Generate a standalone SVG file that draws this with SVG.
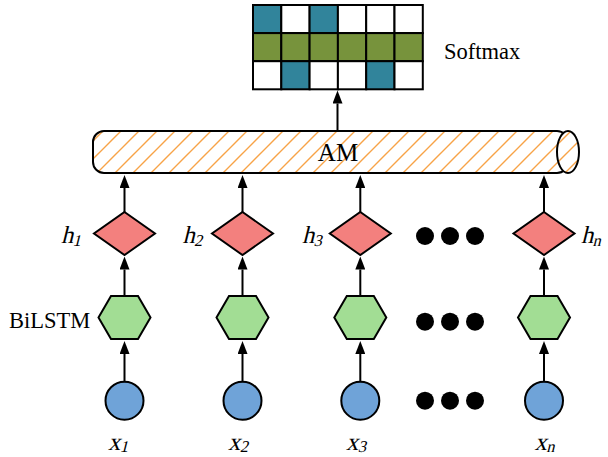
<svg xmlns="http://www.w3.org/2000/svg" width="608" height="457" viewBox="0 0 608 457">
<defs>
<pattern id="hatch" patternUnits="userSpaceOnUse" width="18" height="18">
<rect width="18" height="18" fill="#fff"/>
<path d="M-2,2 L2,-2 M0,18 L18,0 M16,20 L20,16" stroke="#F8A347" stroke-width="1.4"/>
</pattern>
<marker id="ah" viewBox="0 0 13 10" refX="0" refY="5" markerWidth="13" markerHeight="10" markerUnits="userSpaceOnUse" orient="auto">
<path d="M0,0 L13,5 L0,10 z" fill="#000"/>
</marker>
</defs>
<style>
.cell{stroke:#000;stroke-width:2}
.t{fill:#31849B}.g{fill:#77933C}.w{fill:#fff}
.dia{fill:#F3807E;stroke:#000;stroke-width:2}
.hex{fill:#A2DD94;stroke:#000;stroke-width:2}
.cir{fill:#6FA3D8;stroke:#000;stroke-width:2}
.dot{fill:#000}
.conn{stroke:#000;stroke-width:2;fill:none;marker-end:url(#ah)}
.lbl{font-family:"Liberation Serif","Times New Roman",serif;fill:#000}
.var{font-family:"Liberation Serif","Times New Roman",serif;font-size:24.5px;fill:#000}
.sub{font-size:16.5px}
</style>

<g id="softmax">
<rect class="cell t" x="253" y="5" width="28.3" height="28.1"/>
<rect class="cell w" x="281.3" y="5" width="28.3" height="28.1"/>
<rect class="cell t" x="309.6" y="5" width="28.3" height="28.1"/>
<rect class="cell w" x="337.9" y="5" width="28.3" height="28.1"/>
<rect class="cell w" x="366.2" y="5" width="28.3" height="28.1"/>
<rect class="cell w" x="394.5" y="5" width="28.3" height="28.1"/>
<rect class="cell g" x="253" y="33.1" width="28.3" height="28.1"/>
<rect class="cell g" x="281.3" y="33.1" width="28.3" height="28.1"/>
<rect class="cell g" x="309.6" y="33.1" width="28.3" height="28.1"/>
<rect class="cell g" x="337.9" y="33.1" width="28.3" height="28.1"/>
<rect class="cell g" x="366.2" y="33.1" width="28.3" height="28.1"/>
<rect class="cell g" x="394.5" y="33.1" width="28.3" height="28.1"/>
<rect class="cell w" x="253" y="61.2" width="28.3" height="28.1"/>
<rect class="cell t" x="281.3" y="61.2" width="28.3" height="28.1"/>
<rect class="cell w" x="309.6" y="61.2" width="28.3" height="28.1"/>
<rect class="cell w" x="337.9" y="61.2" width="28.3" height="28.1"/>
<rect class="cell t" x="366.2" y="61.2" width="28.3" height="28.1"/>
<rect class="cell w" x="394.5" y="61.2" width="28.3" height="28.1"/>
<text class="lbl" x="444" y="59.3" font-size="22.5">Softmax</text>
</g>

<g id="am">
<rect x="93" y="131" width="475" height="42" rx="11" ry="11" fill="url(#hatch)" stroke="#000" stroke-width="2"/>
<ellipse cx="568" cy="152" rx="11" ry="21" fill="url(#hatch)" stroke="#000" stroke-width="2"/>
<text class="lbl" x="338" y="160.7" font-size="25" text-anchor="middle">AM</text>
</g>

<g id="h1">
<polygon class="dia" points="124.5,212 155,233.5 124.5,255 94,233.5"/>
<text class="var" transform="translate(61,243) skewX(-14)">h<tspan class="sub" dy="3">1</tspan></text>
</g>
<g id="h2">
<polygon class="dia" points="242.5,212 273,233.5 242.5,255 212,233.5"/>
<text class="var" transform="translate(182.5,243) skewX(-14)">h<tspan class="sub" dy="3">2</tspan></text>
</g>
<g id="h3">
<polygon class="dia" points="360.3,212 390.8,233.5 360.3,255 329.8,233.5"/>
<text class="var" transform="translate(302,243) skewX(-14)">h<tspan class="sub" dy="3">3</tspan></text>
</g>
<g id="hn">
<polygon class="dia" points="544,212 574.5,233.5 544,255 513.5,233.5"/>
<text class="var" transform="translate(581,243) skewX(-14)">h<tspan class="sub" dy="3">n</tspan></text>
</g>

<g id="bilstm1">
<polygon class="hex" points="98.5,317.5 111,296 138,296 150.5,317.5 138,339 111,339"/>
<text class="lbl" x="9" y="327.7" font-size="22.5">BiLSTM</text>
</g>
<g id="bilstm2">
<polygon class="hex" points="216.5,317.5 229,296 256,296 268.5,317.5 256,339 229,339"/>
</g>
<g id="bilstm3">
<polygon class="hex" points="334.3,317.5 346.8,296 373.8,296 386.3,317.5 373.8,339 346.8,339"/>
</g>
<g id="bilstmn">
<polygon class="hex" points="518,317.5 530.5,296 557.5,296 570,317.5 557.5,339 530.5,339"/>
</g>

<g id="x1">
<circle class="cir" cx="124.5" cy="400.7" r="19"/>
<text class="var" transform="translate(108,449.5) skewX(-14)">x<tspan class="sub" dy="2">1</tspan></text>
</g>
<g id="x2">
<circle class="cir" cx="242.5" cy="400.7" r="19"/>
<text class="var" transform="translate(228,449.5) skewX(-14)">x<tspan class="sub" dy="2">2</tspan></text>
</g>
<g id="x3">
<circle class="cir" cx="360.3" cy="400.7" r="19"/>
<text class="var" transform="translate(346,449.5) skewX(-14)">x<tspan class="sub" dy="2">3</tspan></text>
</g>
<g id="xn">
<circle class="cir" cx="544" cy="400.7" r="19"/>
<text class="var" transform="translate(534.5,449.5) skewX(-14)">x<tspan class="sub" dy="2">n</tspan></text>
</g>

<g id="ellipsis">
<circle class="dot" cx="425" cy="236" r="9"/>
<circle class="dot" cx="450" cy="236" r="9"/>
<circle class="dot" cx="475" cy="236" r="9"/>
<circle class="dot" cx="425" cy="321.7" r="9"/>
<circle class="dot" cx="450" cy="321.7" r="9"/>
<circle class="dot" cx="475" cy="321.7" r="9"/>
<circle class="dot" cx="425" cy="400.7" r="9"/>
<circle class="dot" cx="450" cy="400.7" r="9"/>
<circle class="dot" cx="475" cy="400.7" r="9"/>
</g>

<g id="connectors">
<path class="conn" d="M337.5,131 V103.5"/>
<path class="conn" d="M124.5,212 V188"/>
<path class="conn" d="M242.5,212 V188"/>
<path class="conn" d="M360.3,212 V188"/>
<path class="conn" d="M544,212 V188"/>
<path class="conn" d="M124.5,296 V269.5"/>
<path class="conn" d="M242.5,296 V269.5"/>
<path class="conn" d="M360.3,296 V269.5"/>
<path class="conn" d="M544,296 V269.5"/>
<path class="conn" d="M124.5,381.7 V354"/>
<path class="conn" d="M242.5,381.7 V354"/>
<path class="conn" d="M360.3,381.7 V354"/>
<path class="conn" d="M544,381.7 V354"/>
</g>
</svg>
